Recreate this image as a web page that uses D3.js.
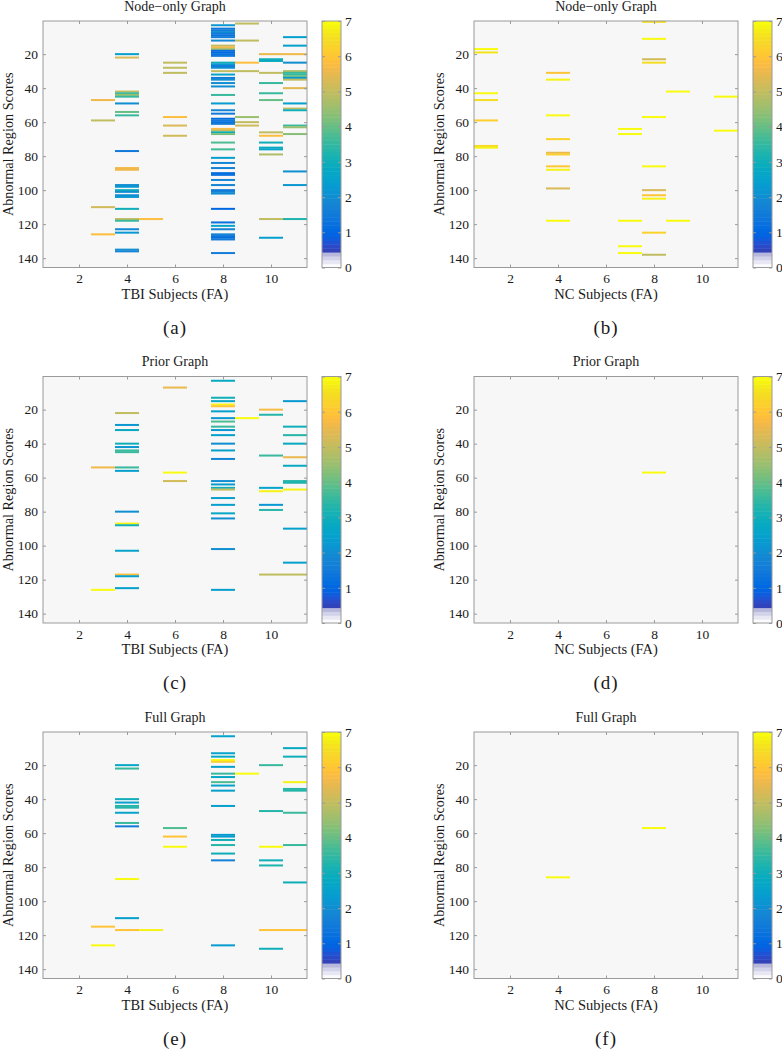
<!DOCTYPE html>
<html><head><meta charset="utf-8">
<script src="https://cdn.jsdelivr.net/npm/d3@7"></script>
<style>
html,body{margin:0;padding:0;background:#fff;}
svg text{font-family:"Liberation Serif","Times New Roman",serif;fill:#1a1a1a;}
</style></head>
<body><svg id="chart" width="782" height="1050"></svg>
<script>
// ---------- data: [subject, region, score] ----------
const nodeOnlyTBI = [
 [3,47,5.6],[3,59,5.0],[3,110,5.2],[3,126,5.8],
 [4,20,2.5],[4,22,5.3],[4,42,5.0],[4,43,3.5],[4,44,4.5],[4,45,3.5],[4,49,2.0],[4,54,4.0],[4,56,3.5],[4,77,1.5],[4,87,5.6],[4,88,5.6],[4,97,2.0],[4,98,2.2],[4,100,3.0],[4,101,2.0],[4,103,2.0],[4,104,2.2],[4,111,3.0],[4,117,5.0],[4,118,3.5],[4,123,1.9],[4,125,2.2],[4,135,2.0],[4,136,1.8],
 [5,117,5.8],
 [6,25,5.0],[6,28,5.0],[6,31,5.0],[6,57,5.8],[6,62,5.3],[6,68,5.2],
 [8,3,2.2],[8,5,1.4],[8,6,1.6],[8,7,2.0],[8,8,1.5],[8,9,1.3],[8,10,1.6],[8,12,1.9],[8,15,5.0],[8,16,5.6],[8,17,4.8],[8,18,1.2],[8,19,1.0],[8,20,1.3],[8,21,1.5],
 [8,25,3.0],[8,26,2.2],[8,27,1.5],[8,28,2.0],[8,30,5.0],[8,32,2.6],[8,34,1.5],[8,35,2.0],[8,37,2.0],[8,39,2.0],[8,44,3.6],[8,49,2.3],[8,53,1.8],[8,55,1.5],
 [8,58,1.2],[8,59,1.5],[8,60,1.3],[8,61,1.6],[8,64,5.7],[8,65,5.0],[8,66,3.0],[8,67,4.2],[8,72,3.8],[8,76,3.7],[8,81,2.5],[8,84,1.8],[8,87,1.7],[8,90,1.1],[8,91,1.3],
 [8,94,1.8],[8,97,1.8],[8,100,1.5],[8,101,1.7],[8,102,2.0],[8,111,1.0],[8,119,1.3],[8,121,2.6],[8,123,1.8],[8,126,1.8],[8,127,1.5],[8,128,1.2],[8,129,1.6],[8,137,1.6],
 [9,2,5.0],[9,12,5.0],[9,25,5.8],[9,30,5.0],[9,57,4.5],[9,60,5.0],[9,62,5.2],
 [10,20,5.5],[10,23,3.0],[10,24,2.8],[10,31,5.0],[10,37,3.5],[10,43,3.5],[10,47,4.0],[10,66,5.0],[10,68,5.8],[10,72,3.0],[10,75,2.8],[10,76,2.6],[10,79,4.8],[10,117,5.0],[10,128,2.5],
 [11,10,2.5],[11,15,2.5],[11,20,5.6],[11,25,2.0],[11,30,4.8],[11,31,3.5],[11,32,3.6],[11,33,4.0],[11,34,2.2],[11,35,5.0],[11,40,5.4],[11,49,2.5],[11,52,5.0],[11,53,3.0],[11,62,3.5],[11,63,4.5],[11,67,4.3],[11,89,2.0],[11,97,2.2],[11,117,3.2]
];
const nodeOnlyNC = [
 [1,17,7],[1,19,6.6],[1,43,6.9],[1,47,6.5],[1,59,6.2],[1,74,6.4],[1,75,6.8],
 [4,31,6.0],[4,35,6.8],[4,56,7],[4,70,6.3],[4,78,5.5],[4,79,6.2],[4,86,6.1],[4,88,6.8],[4,99,5.3],[4,118,7],
 [7,64,7],[7,67,7],[7,118,7],[7,133,7],[7,137,7],
 [8,1,6.5],[8,11,7],[8,23,5.2],[8,25,6.5],[8,57,6.9],[8,86,7],[8,100,5.3],[8,103,6.0],[8,105,6.8],[8,125,6.3],[8,138,5.0],
 [9,42,7],[9,118,7],
 [11,45,7],[11,65,7]
];
const priorTBI = [
 [3,54,5.6],[3,126,7],
 [4,22,5.0],[4,29,2.2],[4,32,2.8],[4,40,3.0],[4,42,2.2],[4,44,3.5],[4,45,3.5],[4,54,3.5],[4,56,2.5],[4,80,2.0],[4,87,6.8],[4,88,3.0],[4,103,2.6],[4,117,5.8],[4,118,2.5],[4,125,2.5],
 [6,7,5.5],[6,57,7],[6,62,5.2],
 [8,3,2.8],[8,13,3.0],[8,15,2.7],[8,17,6.8],[8,18,6.0],[8,21,2.5],[8,25,2.2],[8,27,3.8],[8,30,3.5],[8,32,2.2],[8,35,2.5],[8,40,2.0],[8,44,2.5],[8,49,1.8],[8,62,2.0],[8,64,2.3],[8,66,3.0],[8,67,5.0],[8,72,2.5],[8,76,2.5],[8,81,2.7],[8,84,2.0],[8,102,2.0],[8,126,2.5],
 [9,25,7],
 [10,20,5.7],[10,23,3.3],[10,47,3.5],[10,66,2.6],[10,68,6.8],[10,76,2.2],[10,79,3.3],[10,117,5.0],
 [11,15,2.2],[11,30,3.0],[11,35,3.3],[11,40,2.8],[11,48,5.5],[11,53,2.8],[11,62,3.3],[11,63,3.2],[11,67,6.8],[11,90,2.5],[11,110,2.5],[11,117,5.0]
];
const priorNC = [[8,57,7]];
const fullTBI = [
 [3,115,6.0],[3,126,7],
 [4,20,2.7],[4,22,3.5],[4,40,3.0],[4,42,2.5],[4,44,3.3],[4,45,3.3],[4,48,2.6],[4,54,3.5],[4,56,1.5],[4,87,7],[4,110,2.5],[4,117,6.0],
 [5,117,6.8],
 [6,57,3.8],[6,62,6.0],[6,68,7],
 [8,3,2.6],[8,13,2.6],[8,15,2.8],[8,17,7],[8,18,6.2],[8,21,2.5],[8,25,3.5],[8,27,2.7],[8,30,3.8],[8,32,2.5],[8,35,2.5],[8,44,2.5],[8,61,2.3],[8,62,2.3],[8,64,3.0],[8,67,3.3],[8,72,3.0],[8,76,1.7],[8,126,2.3],
 [9,25,7],
 [10,20,3.6],[10,47,3.3],[10,68,7],[10,76,3.0],[10,79,3.2],[10,117,6.0],[10,128,3.0],
 [11,10,2.8],[11,15,3.0],[11,30,6.8],[11,34,3.3],[11,35,3.3],[11,48,3.6],[11,67,3.6],[11,89,3.0],[11,117,6.0]
];
const fullNC = [[4,86,7],[8,57,7]];

const panelTitles = ["Node\u2212only Graph","Node\u2212only Graph","Prior Graph","Prior Graph","Full Graph","Full Graph"];
const xLabels = ["TBI Subjects (FA)","NC Subjects (FA)","TBI Subjects (FA)","NC Subjects (FA)","TBI Subjects (FA)","NC Subjects (FA)"];
const captions = ["(a)","(b)","(c)","(d)","(e)","(f)"];
const yLabel = "Abnormal Region Scores";
const xTicks = [2,4,6,8,10];
const yTicks = [20,40,60,80,100,120,140];
const cbTicks = [0,1,2,3,4,5,6,7];
const nSubjects = 11, nRegions = 145, scoreMax = 7;

// colormap: light lavender ramp then parula (64 entries)
const parula = [
[0.2081,0.1663,0.5292],[0.2116,0.1898,0.5777],[0.2123,0.2138,0.6270],[0.2081,0.2386,0.6771],[0.1959,0.2645,0.7279],[0.1707,0.2919,0.7792],[0.1253,0.3242,0.8303],[0.0591,0.3598,0.8683],
[0.0117,0.3875,0.8820],[0.0060,0.4086,0.8828],[0.0165,0.4266,0.8786],[0.0329,0.4430,0.8720],[0.0498,0.4586,0.8641],[0.0629,0.4737,0.8554],[0.0723,0.4887,0.8467],[0.0779,0.5040,0.8384],
[0.0793,0.5200,0.8312],[0.0749,0.5375,0.8263],[0.0641,0.5570,0.8240],[0.0488,0.5772,0.8228],[0.0343,0.5966,0.8199],[0.0265,0.6137,0.8135],[0.0239,0.6287,0.8038],[0.0231,0.6418,0.7913],
[0.0228,0.6535,0.7768],[0.0267,0.6642,0.7607],[0.0384,0.6743,0.7436],[0.0590,0.6838,0.7254],[0.0843,0.6928,0.7062],[0.1133,0.7015,0.6859],[0.1453,0.7098,0.6646],[0.1801,0.7177,0.6424],
[0.2178,0.7250,0.6193],[0.2586,0.7317,0.5954],[0.3022,0.7376,0.5712],[0.3482,0.7424,0.5473],[0.3953,0.7459,0.5244],[0.4420,0.7481,0.5033],[0.4871,0.7491,0.4840],[0.5300,0.7491,0.4661],
[0.5709,0.7485,0.4494],[0.6099,0.7473,0.4337],[0.6473,0.7456,0.4188],[0.6834,0.7435,0.4044],[0.7184,0.7411,0.3905],[0.7525,0.7384,0.3768],[0.7858,0.7356,0.3633],[0.8185,0.7327,0.3498],
[0.8507,0.7299,0.3360],[0.8824,0.7274,0.3217],[0.9139,0.7258,0.3063],[0.9450,0.7261,0.2886],[0.9739,0.7314,0.2666],[0.9938,0.7455,0.2403],[0.9990,0.7653,0.2164],[0.9955,0.7861,0.1967],
[0.9880,0.8066,0.1794],[0.9789,0.8271,0.1633],[0.9697,0.8481,0.1475],[0.9626,0.8705,0.1309],[0.9589,0.8949,0.1132],[0.9598,0.9218,0.0948],[0.9661,0.9514,0.0755],[0.9763,0.9831,0.0538]];
const lowRamp = ["#fbfbfd","#e8e8f4","#d2d2ea","#b8b8dc"];
const cmap = parula.map((c,i)=> i<lowRamp.length ? lowRamp[i] : d3.rgb(c[0]*255,c[1]*255,c[2]*255).formatHex());
const colorScale = d3.scaleQuantize().domain([0,scoreMax]).range(cmap);

const panels = [nodeOnlyTBI,nodeOnlyNC,priorTBI,priorNC,fullTBI,fullNC];

const svg = d3.select("#chart");
const plotW = 264, plotH = 246.5;
const colLeft = [43, 474];
const rowTop = [21, 376.5, 732];
const frameColor = "#9a9a9a";

panels.forEach((data,i)=>{
  const left = colLeft[i%2], top = rowTop[Math.floor(i/2)];
  const g = svg.append("g").attr("transform",`translate(${left},${top})`);
  const x = d3.scaleLinear().domain([0.5,nSubjects+0.5]).range([0,plotW]);
  const y = d3.scaleLinear().domain([0.5,nRegions+0.5]).range([0,plotH]);

  g.append("rect").attr("width",plotW).attr("height",plotH).attr("fill","#f7f7f7");
  g.selectAll("rect.cell").data(data).join("rect").attr("class","cell")
    .attr("x",d=>x(d[0]-0.5)).attr("width",d=>x(d[0]+0.5)-x(d[0]-0.5))
    .attr("y",d=>y(d[1]-0.5)-0.15).attr("height",d=>y(d[1]+0.5)-y(d[1]-0.5)+0.3)
    .attr("fill",d=>colorScale(d[2]));

  // axes (inward ticks, box)
  const ax = d3.axisBottom(x).tickValues(xTicks).tickSizeInner(-3).tickSizeOuter(0).tickPadding(6);
  const axB = g.append("g").attr("transform",`translate(0,${plotH})`).call(ax);
  const axT = g.append("g").call(d3.axisTop(x).tickValues(xTicks).tickSizeInner(-3).tickSizeOuter(0).tickFormat(""));
  const ay = d3.axisLeft(y).tickValues(yTicks).tickSizeInner(-3).tickSizeOuter(0).tickPadding(5);
  const axL = g.append("g").call(ay);
  const axR = g.append("g").attr("transform",`translate(${plotW},0)`).call(d3.axisRight(y).tickValues(yTicks).tickSizeInner(-3).tickSizeOuter(0).tickFormat(""));
  [axB,axT,axL,axR].forEach(a=>{a.select(".domain").remove(); a.selectAll("line").attr("stroke",frameColor);
     a.selectAll("text").attr("font-size",13.5).attr("font-family","Liberation Serif").attr("fill","#1a1a1a");});
  g.append("rect").attr("width",plotW).attr("height",plotH).attr("fill","none").attr("stroke",frameColor).attr("stroke-width",1);

  // labels
  g.append("text").attr("x",plotW/2).attr("y",-10.5).attr("text-anchor","middle").attr("font-size",14).text(panelTitles[i]);
  g.append("text").attr("x",plotW/2).attr("y",plotH+31).attr("text-anchor","middle").attr("font-size",14.5).text(xLabels[i]);
  g.append("text").attr("transform",`translate(${-30},${plotH/2}) rotate(-90)`).attr("text-anchor","middle").attr("font-size",14.2).text(yLabel);
  g.append("text").attr("x",plotW/2).attr("y",plotH+66).attr("text-anchor","middle").attr("font-size",19).attr("letter-spacing",1).text(captions[i]);

  // colorbar
  const cbX = plotW+15, cbW = 19;
  const cb = g.append("g").attr("transform",`translate(${cbX},0)`);
  const cy = d3.scaleLinear().domain([0,scoreMax]).range([plotH,0]);
  const step = scoreMax/cmap.length;
  cb.selectAll("rect.cb").data(cmap).join("rect").attr("class","cb")
    .attr("x",0).attr("width",cbW)
    .attr("y",(c,k)=>cy((k+1)*step)).attr("height",(c,k)=>cy(k*step)-cy((k+1)*step)+0.5)
    .attr("fill",c=>c);
  const cbAx = cb.append("g").attr("transform",`translate(${cbW},0)`).call(d3.axisRight(cy).tickValues(cbTicks).tickSizeInner(-3).tickSizeOuter(0).tickPadding(4).tickFormat(d3.format("d")));
  const cbAxL = cb.append("g").call(d3.axisLeft(cy).tickValues(cbTicks).tickSizeInner(-3).tickSizeOuter(0).tickFormat(""));
  [cbAx,cbAxL].forEach(a=>{a.select(".domain").remove(); a.selectAll("line").attr("stroke",frameColor);
     a.selectAll("text").attr("font-size",13.5).attr("font-family","Liberation Serif").attr("fill","#1a1a1a");});
  cb.append("rect").attr("width",cbW).attr("height",plotH).attr("fill","none").attr("stroke",frameColor);
});
</script></body></html>
